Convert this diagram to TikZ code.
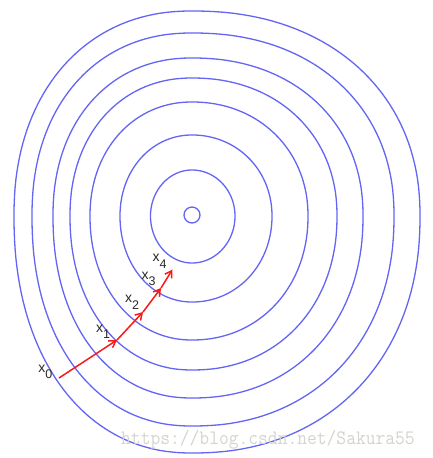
\documentclass[tikz,border=0pt]{standalone}
\usepackage{fontspec}
\setmainfont{Liberation Sans}
\usetikzlibrary{arrows.meta}
\definecolor{cblue}{RGB}{100,100,245}
\definecolor{cred}{RGB}{250,25,25}
\definecolor{labgray}{RGB}{40,40,40}
\definecolor{wmgray}{RGB}{212,212,206}
% #1 L, #2 R, #3 T, #4 B, #5 exponent (2/n)
\newcommand\eggcurve[5]{%
  \draw[cont] plot[domain=1:359,samples=180]
    ({192+(cos(\x)>0 ? #2 : -#1)*pow(abs(cos(\x)),#5)},
     {216+(sin(\x)>0 ? #4 : -#3)*pow(abs(sin(\x)),#5)}) -- cycle;}
\newcommand\xlab[1]{x\raisebox{-6.5pt}{\fontsize{12.5}{12.5}\selectfont #1}}
\begin{document}
\begin{tikzpicture}[x=1pt,y=-1pt,
  cont/.style={draw=cblue,line width=1.3pt},
  garrow/.style={draw=cred,line width=1.5pt,-{Straight Barb[length=6.5pt,width=8pt]}},
  lab/.style={text=labgray,inner sep=0pt,font=\fontsize{14}{14}\selectfont},
  wmark/.style={text=wmgray,inner sep=0pt,font=\ttfamily\fontsize{19}{19}\selectfont,yscale=1.08}]
\useasboundingbox (0,0) rectangle (432,458);
% contours, outermost first
\eggcurve{178}{228}{205}{237}{0.92}
\eggcurve{160}{202}{183}{210}{0.92}
\eggcurve{139}{171}{158}{182}{0.93}
\eggcurve{122}{145}{138}{154}{0.94}
\eggcurve{102}{116}{114}{124}{0.96}
\eggcurve{72}{80}{81}{86}{0.98}
\eggcurve{41.5}{43}{46}{47}{1}
\draw[cont] (192,215) circle[radius=8];
% iterates
\coordinate (p0) at (59,378);
\coordinate (p1) at (117,340);
\coordinate (p2) at (143,312);
\coordinate (p3) at (161,288);
\coordinate (p4) at (172.5,269.5);
\draw[garrow] (p0) -- (p1);
\draw[garrow] (p1) -- (p2);
\draw[garrow] (p2) -- (p3);
\draw[garrow] (p3) -- (p4);
\node[lab] (l0) at (45.3,372) {\xlab{0}};
\node[lab] (l1) at (103,332) {\xlab{1}};
\node[lab] (l2) at (132,302.5) {\xlab{2}};
\node[lab] (l3) at (148.5,279) {\xlab{3}};
\node[lab] (l4) at (159.5,261.5) {\xlab{4}};
\node[wmark,anchor=base west] (wm) at (121,444) {https://blog.csdn.net/Sakura55};
\end{tikzpicture}
\end{document}
